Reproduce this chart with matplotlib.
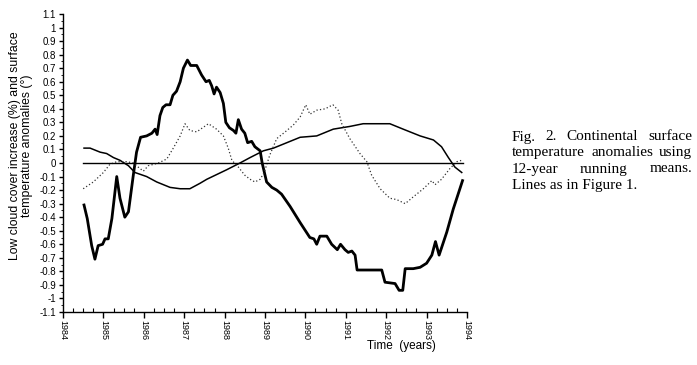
import matplotlib
matplotlib.use("Agg")
import matplotlib.pyplot as plt
from matplotlib.ticker import MultipleLocator, FuncFormatter

# thick line: low cloud cover increase
thick_years = [1984.52, 1984.60, 1984.71, 1984.79, 1984.87, 1984.98, 1985.04, 1985.12,
               1985.21, 1985.33, 1985.41, 1985.53, 1985.62, 1985.74, 1985.82, 1985.92,
               1986.07, 1986.20, 1986.28, 1986.33, 1986.40, 1986.47, 1986.55, 1986.65,
               1986.72, 1986.81, 1986.90, 1986.98, 1987.08, 1987.16, 1987.31, 1987.43,
               1987.54, 1987.62, 1987.68, 1987.74, 1987.80, 1987.89, 1987.97, 1988.03,
               1988.12, 1988.22, 1988.28, 1988.34, 1988.42, 1988.50, 1988.57, 1988.67,
               1988.75, 1988.88, 1988.93, 1989.04, 1989.17, 1989.29, 1989.41, 1989.62,
               1989.87, 1990.11, 1990.21, 1990.28, 1990.36, 1990.53, 1990.65, 1990.79,
               1990.87, 1990.98, 1991.06, 1991.15, 1991.23, 1991.28, 1991.89, 1991.97,
               1992.22, 1992.32, 1992.41, 1992.47, 1992.67, 1992.84, 1993.00, 1993.13,
               1993.22, 1993.31, 1993.50, 1993.66, 1993.89]
thick_vals = [-0.31, -0.41, -0.61, -0.71, -0.61, -0.60, -0.56, -0.56,
              -0.41, -0.10, -0.26, -0.40, -0.36, -0.09, 0.08, 0.19,
              0.20, 0.22, 0.25, 0.21, 0.35, 0.41, 0.43, 0.43,
              0.50, 0.53, 0.60, 0.70, 0.76, 0.72, 0.72, 0.65,
              0.60, 0.61, 0.57, 0.51, 0.56, 0.52, 0.44, 0.30,
              0.26, 0.24, 0.22, 0.32, 0.25, 0.22, 0.15, 0.16,
              0.12, 0.09, 0.00, -0.14, -0.18, -0.20, -0.23, -0.32,
              -0.44, -0.55, -0.56, -0.60, -0.54, -0.54, -0.60, -0.64,
              -0.60, -0.64, -0.66, -0.65, -0.68, -0.79, -0.79, -0.88,
              -0.89, -0.94, -0.94, -0.78, -0.78, -0.77, -0.74, -0.68,
              -0.58, -0.68, -0.51, -0.34, -0.13]

# thin smooth line
thin_years = [1984.52, 1984.67, 1984.92, 1985.08, 1985.25, 1985.41, 1985.62, 1985.78,
              1986.07, 1986.32, 1986.65, 1986.90, 1987.14, 1987.39, 1987.56, 1988.05,
              1988.38, 1988.63, 1988.96, 1989.21, 1989.54, 1989.87, 1990.28, 1990.69,
              1991.10, 1991.43, 1992.09, 1992.42, 1992.84, 1993.17, 1993.37, 1993.54,
              1993.70, 1993.87]
thin_vals = [0.11, 0.11, 0.08, 0.07, 0.04, 0.02, -0.02, -0.07,
             -0.10, -0.14, -0.18, -0.19, -0.19, -0.15, -0.12, -0.05,
             0.00, 0.04, 0.09, 0.11, 0.15, 0.19, 0.20, 0.25,
             0.27, 0.29, 0.29, 0.25, 0.20, 0.17, 0.12, 0.04,
             -0.03, -0.07]

# dotted line: surface temperature anomalies
dot_years = [1984.50, 1984.75, 1985.00, 1985.16, 1985.33, 1985.58, 1985.74, 1985.86,
             1985.99, 1986.11, 1986.24, 1986.36, 1986.57, 1986.73, 1986.90, 1987.02,
             1987.14, 1987.31, 1987.60, 1987.80, 1987.97, 1988.09, 1988.18, 1988.34,
             1988.50, 1988.63, 1988.75, 1988.88, 1988.98, 1989.12, 1989.29, 1989.50,
             1989.70, 1989.87, 1990.01, 1990.11, 1990.28, 1990.49, 1990.68, 1990.81,
             1990.90, 1991.10, 1991.35, 1991.52, 1991.64, 1991.85, 1992.09, 1992.26,
             1992.47, 1992.67, 1992.92, 1993.13, 1993.21, 1993.37, 1993.58, 1993.75,
             1993.87]
dot_vals = [-0.19, -0.14, -0.07, -0.01, 0.01, 0.01, 0.00, -0.03,
            -0.06, -0.02, -0.01, 0.00, 0.03, 0.11, 0.20, 0.29,
            0.24, 0.23, 0.29, 0.25, 0.20, 0.11, 0.02, -0.03,
            -0.09, -0.12, -0.14, -0.12, -0.07, 0.06, 0.18, 0.23,
            0.28, 0.34, 0.43, 0.36, 0.39, 0.40, 0.43, 0.39,
            0.29, 0.18, 0.07, 0.01, -0.09, -0.19, -0.26, -0.27,
            -0.30, -0.25, -0.19, -0.13, -0.16, -0.12, -0.04, 0.01,
            0.02]

zero_years = [1984.50, 1993.89]
zero_vals = [0.0, 0.0]

caption = ["Fig. 2. Continental surface",
           "temperature anomalies using",
           "12-year running means.",
           "Lines as in Figure 1."]

plt.rcParams["font.family"] = ["Liberation Sans", "DejaVu Sans"]

fig = plt.figure(figsize=(6.97, 3.65), dpi=100)
ax = fig.add_axes([0.0904, 0.1452, 0.5796, 0.8164])

ax.plot(thick_years, thick_vals, color="black", lw=2.0, solid_joinstyle="round")
ax.plot(thin_years, thin_vals, color="black", lw=1.1)
ax.plot(dot_years, dot_vals, color="#333333", lw=0.9, linestyle=(0, (1, 1.8)))
ax.plot(zero_years, zero_vals, color="black", lw=1.0)

ax.set_xlim(1984, 1994)
ax.set_ylim(-1.1, 1.1)
for s in ["top", "right"]:
    ax.spines[s].set_visible(False)
for s in ["left", "bottom"]:
    ax.spines[s].set_linewidth(1.0)

ax.xaxis.set_major_locator(MultipleLocator(1))
ax.xaxis.set_minor_locator(MultipleLocator(0.25))
ax.yaxis.set_major_locator(MultipleLocator(0.1))
ax.yaxis.set_minor_locator(MultipleLocator(0.05))
ax.yaxis.set_major_formatter(FuncFormatter(lambda v, p: f"{round(v, 2):g}" if abs(v) > 1e-9 else "0"))
ax.xaxis.set_major_formatter(FuncFormatter(lambda v, p: f"{int(round(v))}"))

ax.tick_params(axis="x", which="major", direction="out", length=4, width=1, labelsize=6.5, pad=1.5, labelrotation=270)
ax.tick_params(axis="x", which="minor", direction="in", length=3, width=0.8)
ax.tick_params(axis="y", which="major", direction="out", length=3, width=1, labelsize=7, pad=2)
ax.tick_params(axis="y", which="minor", direction="out", length=1.5, width=0.6)
for lbl in ax.get_xticklabels():
    lbl.set_va("top")

fig.text(0.021, 0.600, "Low cloud cover increase (%) and surface",
         rotation=90, ha="center", va="center", fontsize=8.8)
fig.text(0.039, 0.600, "temperature anomalies (°)",
         rotation=90, ha="center", va="center", fontsize=8.8)
fig.text(401 / 697, 1 - 346 / 365, "Time  (years)", ha="center", va="center", fontsize=8.5)

# justified caption text on the right
renderer = fig.canvas.get_renderer()
x0, x1 = 512 / 697, 692 / 697
ys = [137, 153, 169, 185]
for i, line in enumerate(caption):
    y = 1 - ys[i] / 365
    words = line.split(" ")
    if i == len(caption) - 1:
        fig.text(x0, y, line, family="Liberation Serif", fontsize=11, va="center")
        continue
    arts = [fig.text(0, y, w, family="Liberation Serif", fontsize=11, va="center") for w in words]
    widths = [a.get_window_extent(renderer).width / fig.bbox.width for a in arts]
    gap = (x1 - x0 - sum(widths)) / (len(words) - 1)
    x = x0
    for a, w in zip(arts, widths):
        a.set_x(x)
        x += w + gap

fig.savefig("out.png", dpi=100)
